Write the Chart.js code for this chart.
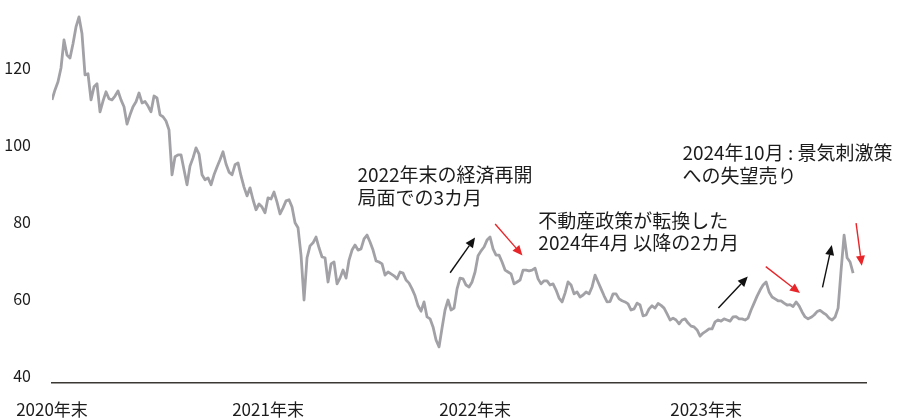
<!DOCTYPE html>
<html lang="ja">
<head>
<meta charset="utf-8">
<script src="https://cdn.jsdelivr.net/npm/chart.js@4"></script>
<style>
  html, body { margin: 0; padding: 0; background: #fff; }
  #wrap { width: 898px; height: 419px; position: relative; }
</style>
</head>
<body>
<div id="wrap"><canvas id="c"></canvas></div>
<script>
// Indice (base ~100) de fin 2020 a octobre 2024, un point par seance echantillonnee.
const yearEnds = [0, 72, 141, 218];
const yearLabels = ["2020年末", "2021年末", "2022年末", "2023年末"];
const yTicks = [40, 60, 80, 100, 120];

const values = [
  111.8, 114.4, 116.5, 120.1, 127.4, 123.5, 122.7, 126.4, 130.8, 133.4,
  129.0, 118.3, 118.6, 111.8, 115.2, 116.0, 108.7, 111.5, 113.9, 112.1,
  111.8, 112.8, 114.1, 111.8, 110.0, 105.5, 107.9, 110.0, 111.3, 113.6,
  111.0, 111.4, 110.2, 108.7, 112.8, 112.3, 107.9, 107.4, 106.3, 104.0,
  92.3, 97.0, 97.5, 97.5, 93.6, 89.7, 94.6, 96.7, 99.3, 97.7,
  92.3, 91.0, 91.5, 89.7, 92.3, 94.3, 96.2, 98.3, 95.1, 93.0,
  92.3, 94.9, 95.4, 92.0, 89.1, 86.8, 88.9, 85.8, 83.2, 84.7,
  83.9, 82.4, 86.3, 86.0, 87.8, 85.2, 82.1, 83.7, 85.5, 85.8,
  83.9, 79.8, 78.5, 71.4, 59.7, 70.7, 73.8, 74.6, 76.1, 73.3,
  70.9, 70.7, 64.4, 69.1, 69.6, 63.9, 65.4, 67.5, 65.4, 70.1,
  72.7, 74.0, 72.7, 73.0, 75.6, 76.6, 74.8, 72.7, 69.9, 69.6,
  69.1, 66.2, 67.0, 66.5, 66.0, 65.2, 67.0, 66.7, 64.9, 64.1,
  62.6, 60.8, 58.2, 56.8, 59.2, 55.3, 54.8, 52.7, 49.3, 47.5,
  52.4, 57.1, 59.7, 57.1, 57.6, 62.6, 65.4, 65.2, 63.6, 63.1,
  64.4, 67.0, 71.2, 72.5, 73.5, 75.3, 76.1, 73.0, 71.4, 71.4,
  69.6, 67.5, 67.0, 66.5, 63.9, 64.4, 64.9, 67.5, 67.5, 67.3,
  67.5, 68.0, 65.2, 63.9, 64.7, 64.7, 63.6, 63.9, 62.3, 60.2,
  59.2, 61.5, 64.4, 63.6, 61.3, 61.8, 60.5, 61.0, 61.8, 61.3,
  63.1, 66.2, 64.4, 62.6, 60.8, 59.2, 59.3, 61.3, 61.3, 60.0,
  59.5, 59.2, 58.7, 57.1, 57.4, 58.9, 58.4, 55.6, 55.8, 57.4,
  58.2, 57.6, 58.8, 58.3, 57.6, 56.1, 54.5, 55.0, 54.5, 53.5,
  54.5, 54.8, 53.7, 52.9, 52.7, 51.9, 50.3, 51.1, 51.6, 52.2,
  52.2, 54.0, 54.5, 54.2, 54.8, 54.5, 54.2, 55.3, 55.4, 54.8,
  54.8, 54.5, 55.0, 57.1, 58.9, 60.7, 62.3, 63.6, 64.4, 61.8,
  60.5, 60.0, 59.5, 59.5, 58.9, 58.4, 58.5, 58.0, 59.2, 58.2,
  56.6, 55.3, 54.8, 55.2, 55.8, 56.7, 57.0, 56.4, 55.9, 55.0,
  54.5, 55.3, 57.6, 67.5, 76.6, 70.7, 69.6, 66.7
];

// Commentaires et fleches, places en unites des axes (index, valeur)
const notes = [
  { x: 101.8, y: 92.3, lines: ["2022年末の経済再開", "局面での3カ月"] },
  { x: 162.1, y: 80.4, lines: ["不動産政策が転換した", "2024年4月 以降の2カ月"] },
  { x: 210.1, y: 97.9, lines: ["2024年10月 : 景気刺激策", "への失望売り"] },
];
const arrows = [
  { from: [132.7, 66.8], to: [141.0, 76.0], color: "#111111" },
  { from: [147.7, 79.5], to: [156.8, 71.3], color: "#e8262a" },
  { from: [222.1, 57.6], to: [231.9, 65.8], color: "#111111" },
  { from: [237.9, 68.4], to: [249.3, 61.5], color: "#e8262a" },
  { from: [256.8, 63.0], to: [259.9, 74.0], color: "#111111" },
  { from: [268.0, 79.7], to: [269.9, 68.6], color: "#e8262a" },
];

const FONT = "'Noto Sans CJK JP', 'Noto Sans', sans-serif";

function drawArrow(ctx, x1, y1, x2, y2, color) {
  const ang = Math.atan2(y2 - y1, x2 - x1);
  const head = 10, half = 4.5;
  const bx = x2 - head * Math.cos(ang), by = y2 - head * Math.sin(ang);
  ctx.strokeStyle = color;
  ctx.fillStyle = color;
  ctx.lineWidth = 1.4;
  ctx.beginPath();
  ctx.moveTo(x1, y1);
  ctx.lineTo(bx, by);
  ctx.stroke();
  ctx.beginPath();
  ctx.moveTo(x2, y2);
  ctx.lineTo(bx + half * Math.sin(ang), by - half * Math.cos(ang));
  ctx.lineTo(bx - half * Math.sin(ang), by + half * Math.cos(ang));
  ctx.closePath();
  ctx.fill();
}

const annotations = {
  id: "annotations",
  afterDatasetsDraw(chart) {
    const { ctx, scales: { x, y } } = chart;
    ctx.save();
    arrows.forEach(a => drawArrow(ctx,
      x.getPixelForValue(a.from[0]), y.getPixelForValue(a.from[1]),
      x.getPixelForValue(a.to[0]), y.getPixelForValue(a.to[1]), a.color));
    ctx.font = `19px ${FONT}`;
    ctx.fillStyle = "#1c1c1c";
    ctx.textBaseline = "middle";
    ctx.textAlign = "left";
    notes.forEach(n => {
      const px = x.getPixelForValue(n.x), py = y.getPixelForValue(n.y);
      n.lines.forEach((t, k) => ctx.fillText(t, px, py + k * 22.5));
    });
    ctx.restore();
  }
};

new Chart(document.getElementById("c"), {
  type: "line",
  data: {
    datasets: [{
      data: values.map((v, i) => ({ x: i, y: v })),
      borderColor: "#a2a2a6",
      borderWidth: 2.8,
      borderJoinStyle: "round",
      pointRadius: 0,
      tension: 0,
      fill: false,
    }],
  },
  options: {
    responsive: true,
    maintainAspectRatio: false,
    animation: false,
    layout: { padding: { left: 0, right: 32, top: 0, bottom: 0 } },
    plugins: { legend: { display: false }, tooltip: { enabled: false } },
    scales: {
      x: {
        type: "linear",
        min: 0,
        max: 271.3,
        afterBuildTicks: s => { s.ticks = yearEnds.map(v => ({ value: v })); },
        afterFit: s => { s.height = 36; s.paddingLeft = 0; s.paddingRight = 0; },
        grid: { display: false },
        border: { display: true, color: "#3b3733", width: 1.5 },
        ticks: {
          padding: 8, maxRotation: 0, autoSkip: false, color: "#1c1c1c",
          font: { family: FONT, size: 17 },
          callback: (v, i) => yearLabels[i],
        },
      },
      y: {
        min: 38.1,
        max: 137.8,
        afterBuildTicks: s => { s.ticks = yTicks.map(v => ({ value: v })); },
        afterFit: s => { s.width = 52; s.paddingTop = 0; s.paddingBottom = 0; },
        grid: { display: false },
        border: { display: false },
        ticks: { padding: 13, color: "#1c1c1c", font: { family: FONT, size: 16 } },
      },
    },
  },
  plugins: [annotations],
});
</script>
</body>
</html>
